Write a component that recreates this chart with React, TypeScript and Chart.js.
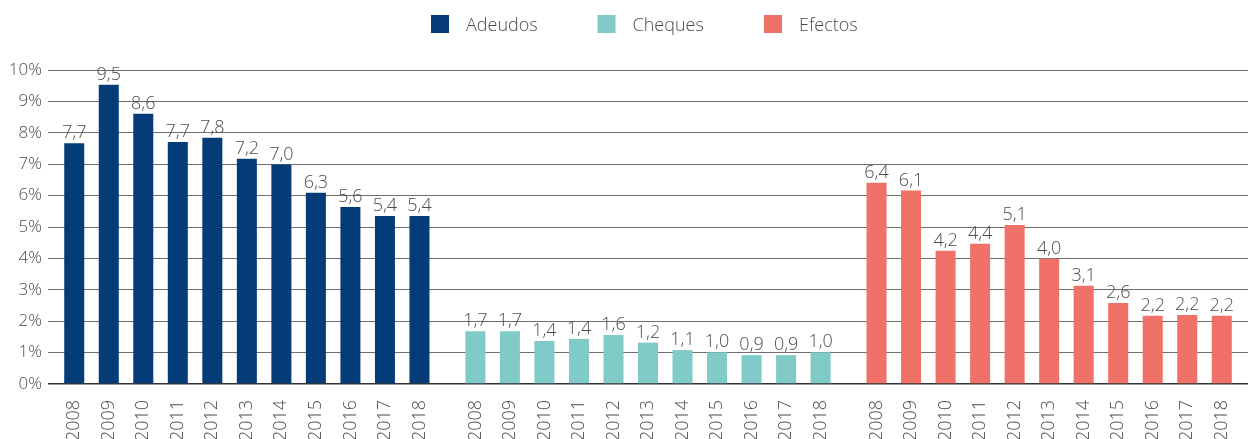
import React, { useEffect, useRef } from 'react';
import { Chart, registerables } from 'chart.js';

Chart.register(...registerables);

// ---- data ----
const years = ['2008', '2009', '2010', '2011', '2012', '2013', '2014', '2015', '2016', '2017', '2018'];
const seriesNames = ['Adeudos', 'Cheques', 'Efectos'];
const adeudos = [7.67, 9.53, 8.61, 7.71, 7.84, 7.17, 6.99, 6.09, 5.64, 5.35, 5.35];
const adeudosLabels = ['7,7', '9,5', '8,6', '7,7', '7,8', '7,2', '7,0', '6,3', '5,6', '5,4', '5,4'];
const cheques = [1.68, 1.68, 1.37, 1.43, 1.56, 1.32, 1.08, 1.01, 0.92, 0.92, 1.01];
const chequesLabels = ['1,7', '1,7', '1,4', '1,4', '1,6', '1,2', '1,1', '1,0', '0,9', '0,9', '1,0'];
const efectos = [6.41, 6.16, 4.24, 4.47, 5.06, 3.99, 3.13, 2.58, 2.17, 2.2, 2.17];
const efectosLabels = ['6,4', '6,1', '4,2', '4,4', '5,1', '4,0', '3,1', '2,6', '2,2', '2,2', '2,2'];
const yTickValues = [0, 1, 2, 3, 4, 5, 6, 7, 8, 9, 10];

// ---- style / layout ----
const colors = ['#043c78', '#80cbc8', '#f07167'];
const GROUP_STEP = 11.62;
const EDGE = 0.76;
const FONT = "'Open Sans', 'Noto Sans', sans-serif";
const TEXT_COLOR = '#4d4d4d';

const seriesValues = [adeudos, cheques, efectos];
const seriesLabels = [adeudosLabels, chequesLabels, efectosLabels];
const xPositions: number[] = [];
seriesValues.forEach((vals, g) => vals.forEach((_, i) => xPositions.push(g * GROUP_STEP + i)));

const legendPlugin = {
  id: 'customLegend',
  afterDraw(chart: any) {
    const ctx = chart.ctx;
    ctx.save();
    ctx.font = `300 18px ${FONT}`;
    ctx.textBaseline = 'middle';
    ctx.textAlign = 'left';
    const startX = 431;
    const step = 166.5;
    chart.data.datasets.forEach((ds: any, i: number) => {
      const x = startX + i * step;
      ctx.fillStyle = ds.backgroundColor;
      ctx.fillRect(x, 15, 18, 18);
      ctx.fillStyle = TEXT_COLOR;
      ctx.fillText(ds.label, x + 35, 26);
    });
    ctx.restore();
  },
};

const valueLabelPlugin = {
  id: 'valueLabels',
  afterDatasetsDraw(chart: any) {
    const ctx = chart.ctx;
    ctx.save();
    ctx.font = `300 18px ${FONT}`;
    ctx.fillStyle = TEXT_COLOR;
    ctx.textAlign = 'center';
    ctx.textBaseline = 'alphabetic';
    chart.data.datasets.forEach((ds: any, d: number) => {
      const meta = chart.getDatasetMeta(d);
      meta.data.forEach((bar: any, i: number) => {
        ctx.fillText(seriesLabels[d][i], bar.x, bar.y - 5);
      });
    });
    ctx.restore();
  },
};

export default function App() {
  const canvasRef = useRef<HTMLCanvasElement>(null);

  useEffect(() => {
    if (!canvasRef.current) return;
    const chart = new Chart(canvasRef.current, {
      type: 'bar',
      data: {
        datasets: seriesValues.map((vals, g) => ({
          label: seriesNames[g],
          data: vals.map((v, i) => ({ x: g * GROUP_STEP + i, y: v })),
          backgroundColor: colors[g],
          borderWidth: 0,
          barPercentage: 0.58,
          categoryPercentage: 1,
        })),
      },
      options: {
        animation: false,
        responsive: false,
        maintainAspectRatio: false,
        layout: { padding: { top: 70, left: 0, right: 0, bottom: 0 } },
        plugins: {
          legend: { display: false },
          tooltip: { enabled: false },
        },
        scales: {
          x: {
            type: 'linear',
            stacked: true,
            offset: false,
            min: -EDGE,
            max: 2 * GROUP_STEP + 10 + EDGE,
            grid: { display: false, drawTicks: false, offset: false },
            border: { display: false },
            afterBuildTicks: (scale: any) => {
              scale.ticks = xPositions.map((v) => ({ value: v }));
            },
            afterFit: (scale: any) => {
              scale.height = 55;
              scale.paddingLeft = 0;
              scale.paddingRight = 0;
            },
            ticks: {
              autoSkip: false,
              maxRotation: 90,
              minRotation: 90,
              padding: 16,
              color: TEXT_COLOR,
              font: { family: FONT, size: 18, weight: '300' as any },
              callback: (_v: any, index: number) => years[index % years.length],
            },
          },
          y: {
            stacked: true,
            min: 0,
            max: 10,
            afterBuildTicks: (scale: any) => {
              scale.ticks = yTickValues.map((v) => ({ value: v }));
            },
            afterFit: (scale: any) => {
              scale.width = 48;
              scale.paddingTop = 0;
              scale.paddingBottom = 0;
            },
            grid: {
              drawTicks: false,
              color: (c: any) => (c.tick && c.tick.value === 0 ? '#333333' : '#6e6e6e'),
              lineWidth: (c: any) => (c.tick && c.tick.value === 0 ? 1.5 : 1),
            },
            border: { display: false },
            ticks: {
              padding: 6,
              color: TEXT_COLOR,
              font: { family: FONT, size: 17, weight: '300' as any },
              callback: (v: any) => `${v}%`,
            },
          },
        },
      },
      plugins: [legendPlugin, valueLabelPlugin],
    });
    return () => chart.destroy();
  }, []);

  return (
    <div style={{ position: 'absolute', left: 0, top: 0, width: 1248, height: 439, background: '#ffffff' }}>
      <canvas ref={canvasRef} width={1248} height={439} style={{ width: 1248, height: 439, display: 'block' }} />
    </div>
  );
}
